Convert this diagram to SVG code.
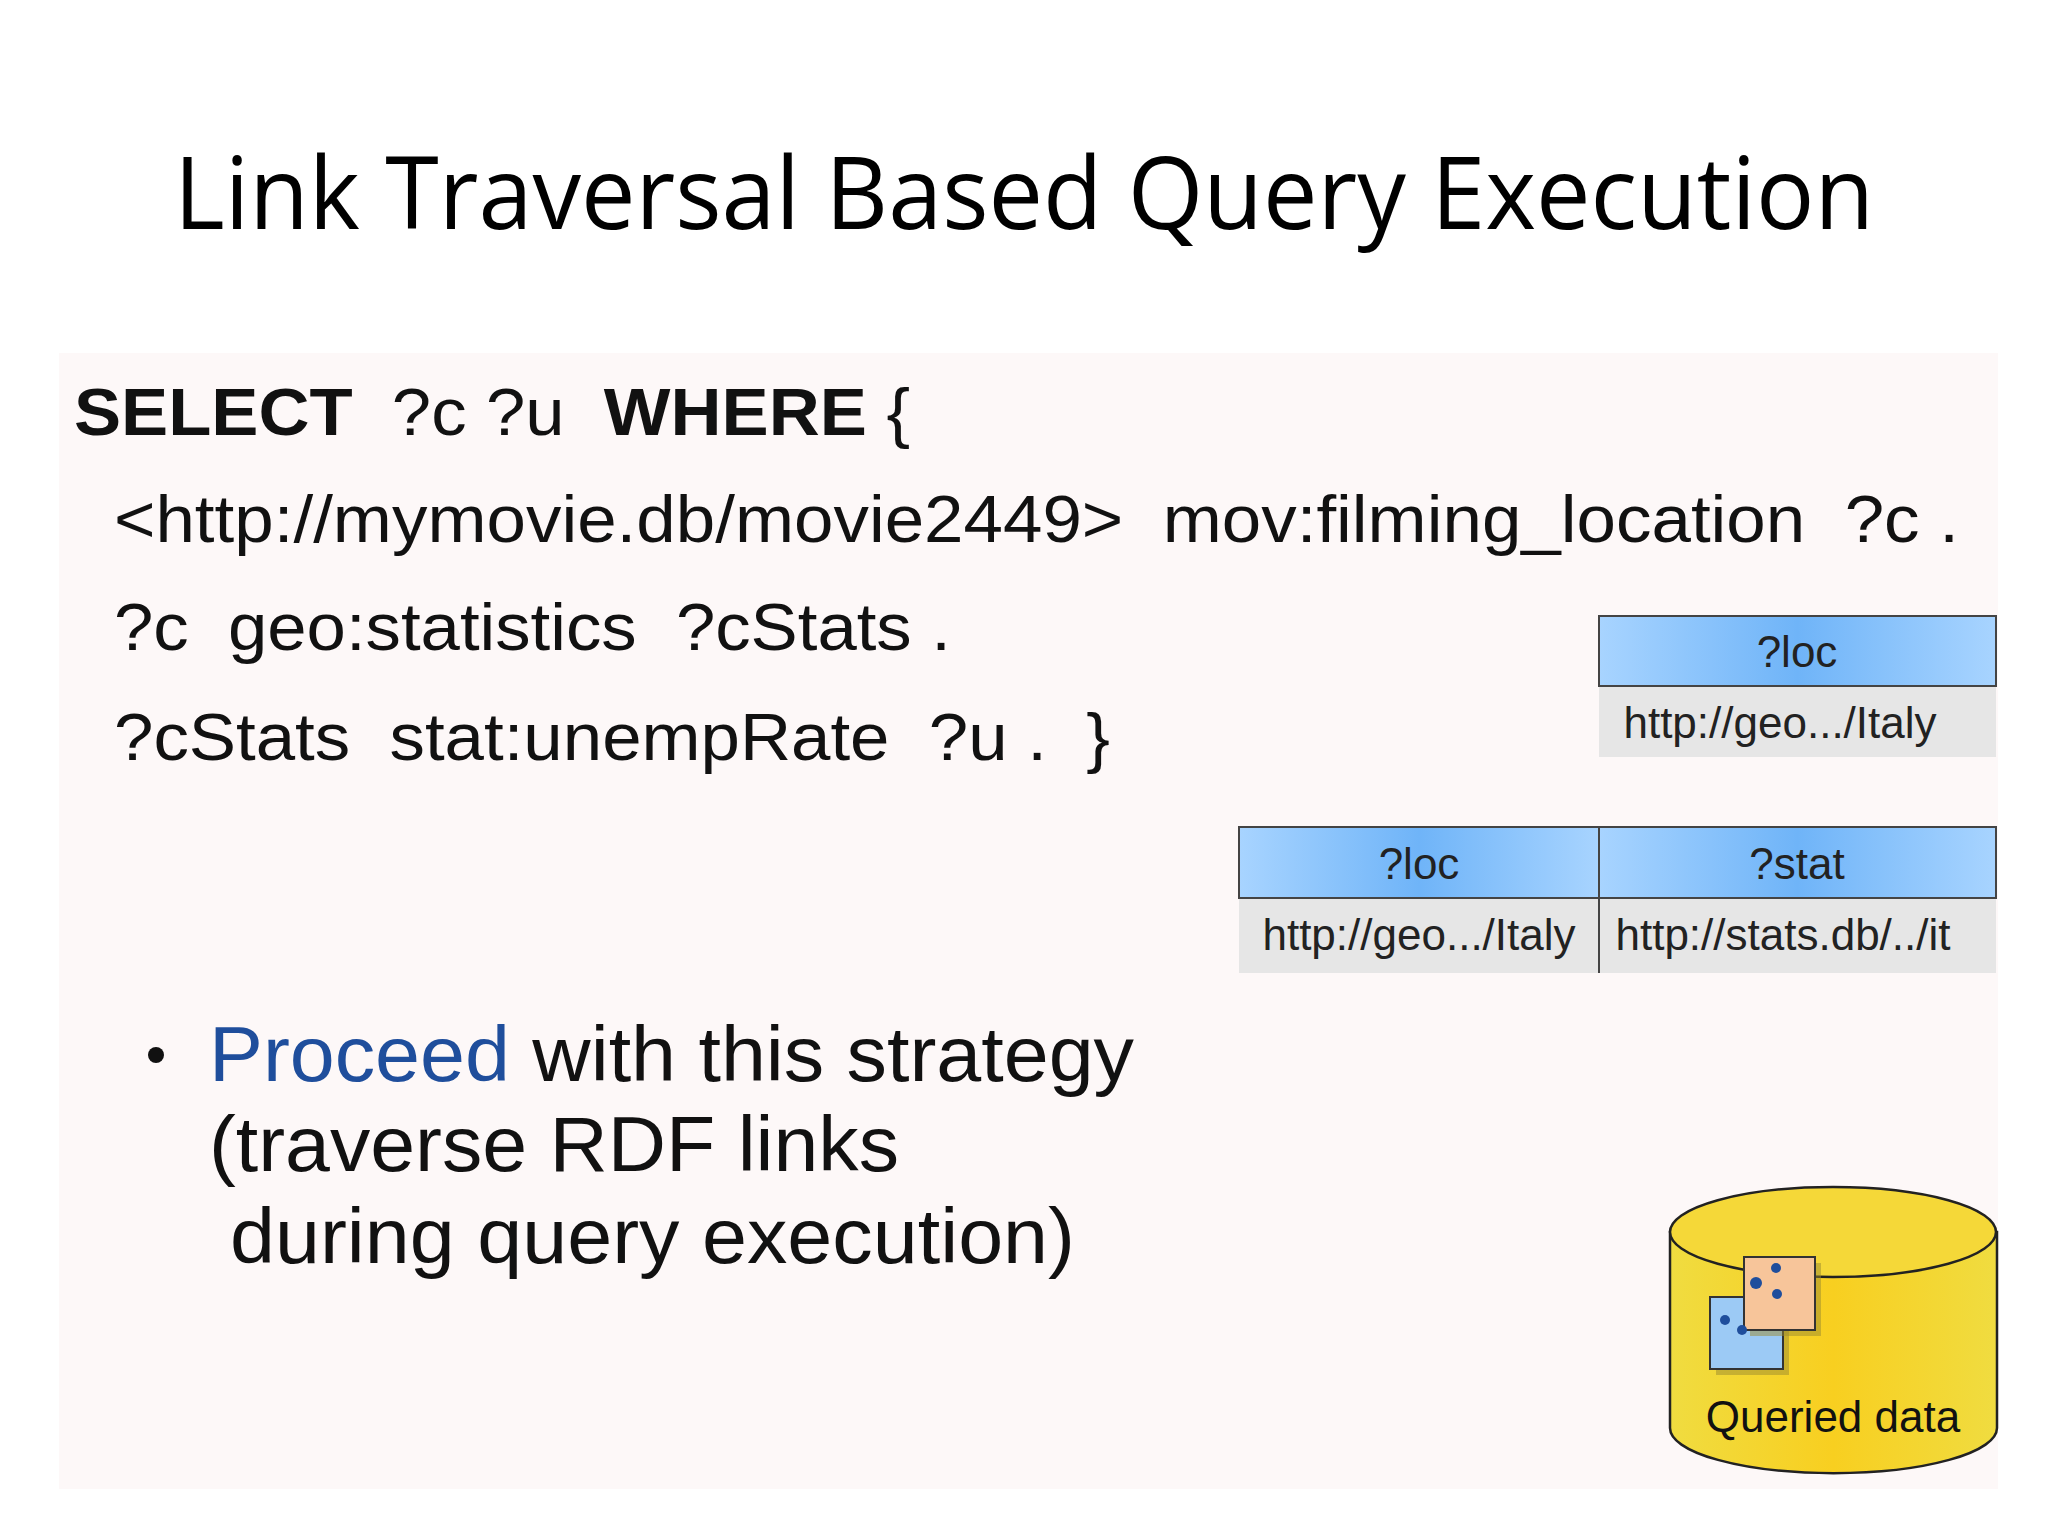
<svg xmlns="http://www.w3.org/2000/svg" width="2048" height="1536" viewBox="0 0 2048 1536">
<defs>
<linearGradient id="hdr" x1="0" y1="0" x2="1" y2="0"><stop offset="0" stop-color="#a8d4ff"/><stop offset="0.5" stop-color="#6fb4f8"/><stop offset="1" stop-color="#a8d4ff"/></linearGradient>
<linearGradient id="cyl" x1="0" y1="0" x2="1" y2="0"><stop offset="0" stop-color="#f0dc40"/><stop offset="0.5" stop-color="#f8cf20"/><stop offset="1" stop-color="#f0dc40"/></linearGradient>
<style>
.t{font-family:"Liberation Sans",Arial,sans-serif;fill:#111;white-space:pre}
.q{font-size:66px}
.b{font-weight:bold}
.cell{font-family:"Liberation Sans",Arial,sans-serif;font-size:44px;fill:#222;text-anchor:middle}
.hd{fill:url(#hdr);stroke:#444;stroke-width:2}
.rw{fill:#e6e6e6}
</style>
</defs>
<rect width="2048" height="1536" fill="#ffffff"/>
<rect x="59" y="353" width="1939" height="1136" fill="#fdf8f8"/>
<g id="title"><text x="1024" y="229" text-anchor="middle" font-family="Open Sans,Liberation Sans,sans-serif" font-size="100" fill="#000" textLength="1700" lengthAdjust="spacingAndGlyphs">Link Traversal Based Query Execution</text></g>
<g id="query">
<text class="t q" x="74" y="435" xml:space="preserve" textLength="836" lengthAdjust="spacingAndGlyphs"><tspan class="b">SELECT</tspan>  ?c ?u  <tspan class="b">WHERE</tspan> {</text>
<text class="t q" x="114" y="542" xml:space="preserve" textLength="1845" lengthAdjust="spacingAndGlyphs">&lt;http://mymovie.db/movie2449&gt;  mov:filming_location  ?c .</text>
<text class="t q" x="114" y="650" xml:space="preserve" textLength="837" lengthAdjust="spacingAndGlyphs">?c  geo:statistics  ?cStats .</text>
<text class="t q" x="114" y="760" xml:space="preserve" textLength="996" lengthAdjust="spacingAndGlyphs">?cStats  stat:unempRate  ?u .  }</text>
</g>
<g id="table1">
<rect class="rw" x="1599" y="686" width="397" height="71"/>
<rect class="hd" x="1599" y="616" width="397" height="70"/>
<text class="cell" x="1797" y="667">?loc</text>
<text class="cell" x="1780" y="738">http://geo.../Italy</text>
</g>
<g id="table2">
<rect class="rw" x="1239" y="898" width="757" height="75"/>
<rect class="hd" x="1239" y="827" width="360" height="71"/>
<rect class="hd" x="1599" y="827" width="397" height="71"/>
<line x1="1599" y1="898" x2="1599" y2="973" stroke="#444" stroke-width="2"/>
<text class="cell" x="1419" y="879">?loc</text>
<text class="cell" x="1797" y="879">?stat</text>
<text class="cell" x="1419" y="950">http://geo.../Italy</text>
<text class="cell" x="1783" y="950">http://stats.db/../it</text>
</g>
<g id="bullet">
<circle cx="156" cy="1055" r="8" fill="#111"/>
<text class="t" font-size="78" x="209" y="1081" textLength="925" lengthAdjust="spacingAndGlyphs"><tspan fill="#1f4e9c">Proceed</tspan> with this strategy</text>
<text class="t" font-size="78" x="209" y="1171" textLength="690" lengthAdjust="spacingAndGlyphs">(traverse RDF links</text>
<text class="t" font-size="78" x="230" y="1263" textLength="845" lengthAdjust="spacingAndGlyphs">during query execution)</text>
</g>
<g id="db">
<path d="M1670,1232 L1670,1428 A163,45 0 0 0 1997,1428 L1997,1232 Z" fill="url(#cyl)" stroke="#222" stroke-width="2.5"/>
<ellipse cx="1833" cy="1232" rx="163" ry="45" fill="#f5d838" stroke="#222" stroke-width="2.5"/>
<rect x="1716" y="1303" width="73" height="72" fill="#9a8a30" opacity="0.5"/>
<rect x="1710" y="1297" width="73" height="72" fill="#9ccaf5" stroke="#333" stroke-width="2"/>
<rect x="1750" y="1263" width="71" height="73" fill="#9a8a30" opacity="0.5"/>
<rect x="1744" y="1257" width="71" height="73" fill="#f7c59a" stroke="#333" stroke-width="2"/>
<g fill="#1f4e9c"><circle cx="1756" cy="1283" r="6"/><circle cx="1776" cy="1268" r="5"/><circle cx="1777" cy="1294" r="5"/><circle cx="1725" cy="1320" r="5"/><circle cx="1742" cy="1330" r="5"/></g>
<text x="1833" y="1432" text-anchor="middle" font-family="Liberation Sans,Arial,sans-serif" font-size="44" fill="#111">Queried data</text>
</g>
</svg>
